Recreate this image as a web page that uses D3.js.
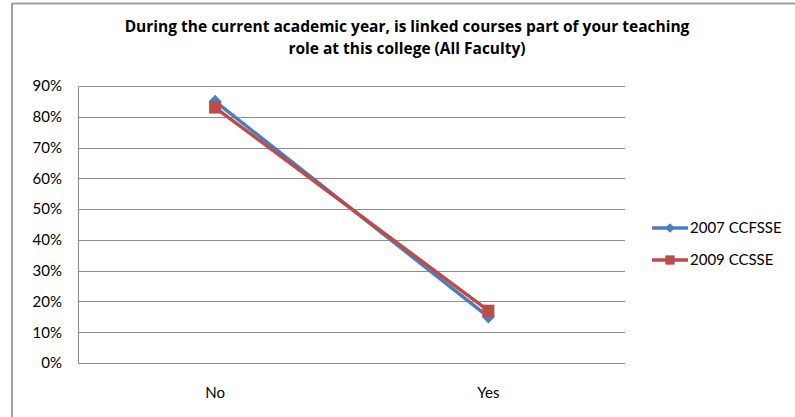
<!DOCTYPE html>
<html><head><meta charset="utf-8">
<script src="https://cdn.jsdelivr.net/npm/d3@7"></script>
<style>html,body{margin:0;padding:0;background:#fff;}svg{display:block;}</style>
</head><body>
<script>
const categories = ["No", "Yes"];
const seriesNames = ["2007 CCFSSE", "2009 CCSSE"];
const series2007 = [0.85, 0.15];
const series2009 = [0.83, 0.17];
const yTicks = [0, 0.1, 0.2, 0.3, 0.4, 0.5, 0.6, 0.7, 0.8, 0.9];
const titleLines = ["During the current academic year, is linked courses part of your teaching",
                    "role at this college (All Faculty)"];

(function () {
const W = 795, H = 417;
const font = "Lato, 'Open Sans', sans-serif";
const tfont = "'Open Sans', Lato, sans-serif";
const lfs = 15;
const svg = d3.select("body").append("svg").attr("width", W).attr("height", H);

// frame
svg.append("line").attr("x1", 12).attr("x2", W).attr("y1", 3.5).attr("y2", 3.5)
  .attr("stroke", "#a0a0a0").attr("stroke-width", 2);
svg.append("line").attr("x1", 12).attr("x2", 12).attr("y1", 3).attr("y2", H)
  .attr("stroke", "#a0a0a0").attr("stroke-width", 2);

const pLeft = 78.5, pRight = 625, pTop = 86, pBottom = 363;
const x = d3.scaleBand().domain(categories).range([pLeft, pRight]);
const y = d3.scaleLinear().domain([0, 0.9]).range([pBottom, pTop]);

// gridlines
svg.append("g").selectAll("line").data(yTicks).join("line")
  .attr("x1", pLeft).attr("x2", pRight)
  .attr("y1", d => Math.round(y(d)) + 0.5).attr("y2", d => Math.round(y(d)) + 0.5)
  .attr("stroke", "#8c8c8c").attr("stroke-width", 1);
svg.append("line").attr("x1", pLeft).attr("x2", pLeft).attr("y1", Math.round(pTop)+0.5).attr("y2", Math.round(pBottom)+0.5)
  .attr("stroke", "#8c8c8c").attr("stroke-width", 1);

// y axis labels
const yAxis = d3.axisLeft(y).tickValues(yTicks).tickFormat(d3.format(".0%")).tickSize(0).tickPadding(16.5);
const gy = svg.append("g").attr("transform", `translate(${pLeft},0)`).call(yAxis);
gy.select(".domain").remove();
gy.attr("font-family", font).attr("font-size", lfs);
gy.selectAll("text").attr("fill", "#000");

// x axis labels
const xAxis = d3.axisBottom(x).tickSize(0).tickPadding(24);
const gx = svg.append("g").attr("transform", `translate(0,${pBottom})`).call(xAxis);
gx.select(".domain").remove();
gx.attr("font-family", font).attr("font-size", lfs);
gx.selectAll("text").attr("fill", "#000");

const colors = ["#4a7ebb", "#be4b48"];
const data = [series2007, series2009];
const line = d3.line().x((d, i) => x(categories[i]) + x.bandwidth() / 2).y(d => y(d));

data.forEach((s, si) => {
  svg.append("path").attr("d", line(s)).attr("fill", "none")
    .attr("stroke", colors[si]).attr("stroke-width", 3.5).attr("stroke-linejoin", "round");
});
data.forEach((s, si) => {
  const sym = si === 0 ? d3.symbolDiamond2 : d3.symbolSquare2;
  const size = si === 0 ? 110 : 185;
  svg.append("g").selectAll("path").data(s).join("path")
    .attr("transform", (d, i) => `translate(${x(categories[i]) + x.bandwidth() / 2},${y(d)})`)
    .attr("d", d3.symbol(sym, size))
    .attr("fill", colors[si]);
});

// legend
const legY = [228, 260];
seriesNames.forEach((n, i) => {
  const g = svg.append("g").attr("transform", `translate(652,${legY[i]})`);
  g.append("line").attr("x1", 0).attr("x2", 36).attr("stroke", colors[i]).attr("stroke-width", 3.5);
  g.append("path").attr("transform", "translate(18,0)")
    .attr("d", d3.symbol(i === 0 ? d3.symbolDiamond2 : d3.symbolSquare2, i === 0 ? 60 : 110))
    .attr("fill", colors[i]);
  g.append("text").attr("x", 38).attr("y", 0).attr("dy", "0.35em")
    .attr("font-family", font).attr("font-size", lfs).attr("fill", "#000").text(n);
});

// title
const ty = [32, 53.5];
const tt = svg.append("g");
titleLines.forEach((t, i) => {
  tt.append("text").attr("x", 407).attr("y", ty[i]).attr("text-anchor", "middle")
    .attr("font-family", tfont).attr("font-weight", "bold").attr("font-size", 15.5)
    .attr("fill", "#000").text(t);
});
})();
</script>
</body></html>
